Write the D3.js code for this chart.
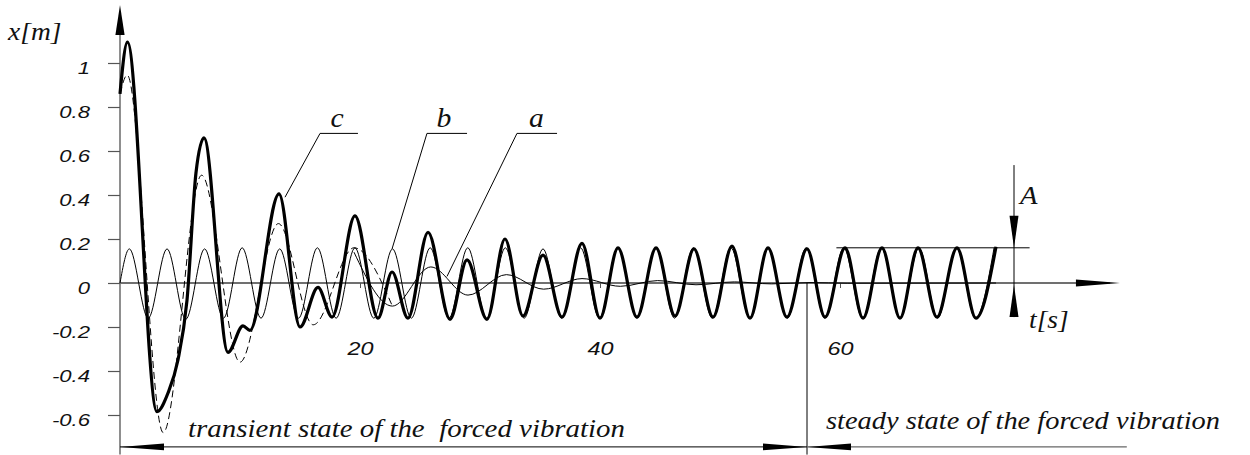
<!DOCTYPE html>
<html>
<head>
<meta charset="utf-8">
<script src="https://cdn.jsdelivr.net/npm/d3@7"></script>
<style>
  html, body { margin: 0; padding: 0; background: #fff; }
  svg { display: block; }
</style>
</head>
<body>
<svg id="chart" width="1250" height="455"></svg>
<script>
// ---- Response of a damped oscillator to harmonic forcing ----
// c: total response (thick), b: steady-state harmonic part (thin),
// a: decaying free-vibration part (thin, dashed at the start)

// c: total displacement, turning points and shoulders [t in s, x in m]
const cTime = [0, 0.62, 3.08, 4.0, 4.83, 5.58, 6.33, 7.0, 9.0, 10.25, 10.83, 13.25,
  15.0, 16.5, 17.67, 19.58, 21.5, 22.67, 24.0, 25.67, 27.5, 28.92, 30.58, 32.08,
  33.58, 35.25, 36.83, 38.5, 40.0, 41.5, 43.08, 44.67, 46.25, 47.83, 49.42, 51.0,
  52.5, 54.0, 55.58, 57.25, 58.75, 60.42, 61.92, 63.5, 65.0, 66.5, 68.08, 69.75,
  71.33, 73.0];
const cDisp = [0.86, 1.095, -0.585, -0.50, -0.35, -0.08, 0.50, 0.66, -0.315, -0.195, -0.215, 0.405,
  -0.20, -0.02, -0.155, 0.305, -0.16, 0.05, -0.16, 0.23, -0.165, 0.105, -0.165, 0.20,
  -0.15, 0.127, -0.155, 0.18, -0.16, 0.16, -0.155, 0.16, -0.15, 0.155, -0.155, 0.168,
  -0.16, 0.16, -0.155, 0.155, -0.155, 0.16, -0.16, 0.16, -0.16, 0.16, -0.155, 0.16,
  -0.16, 0.165];

// b: steady-state (particular) solution, crests and troughs
const bTime = [0, 0.78, 2.35, 3.92, 5.48, 7.05, 8.62, 10.18, 11.75, 13.31, 14.88, 16.45,
  18.01, 19.58, 21.15, 22.71, 24.28, 25.85, 27.41, 28.98, 30.55, 32.11, 33.68, 35.25,
  36.81, 38.38, 39.95, 41.51, 43.08, 44.64, 46.21, 47.78, 49.35, 50.91, 52.48, 54.04,
  55.61, 57.18, 58.74, 60.31, 61.88, 63.44, 65.01, 66.58, 68.14, 69.71, 71.28, 72.84];
const bDisp = [0, 0.155, -0.16, 0.155, -0.165, 0.155, -0.16, 0.16, -0.16, 0.155, -0.16, 0.16,
  -0.16, 0.16, -0.16, 0.155, -0.16, 0.16, -0.16, 0.16, -0.16, 0.16, -0.16, 0.155,
  -0.16, 0.16, -0.16, 0.16, -0.16, 0.16, -0.16, 0.16, -0.16, 0.16, -0.16, 0.16,
  -0.16, 0.16, -0.16, 0.16, -0.16, 0.16, -0.16, 0.16, -0.16, 0.16, -0.16, 0.16];

// a: free vibration, early part (dashed)
const aEarlyTime = [0, 0.6, 3.6, 6.8, 10.0, 13.2, 16.1, 19.5, 22.7];
const aEarlyDisp = [0.86, 0.945, -0.68, 0.49, -0.36, 0.27, -0.19, 0.16, -0.105];

// a: free vibration, decaying tail (solid)
const aTime = [19.5, 22.7, 25.9, 29.0, 32.2, 35.3, 38.5, 41.7, 44.8, 48.0, 51.2, 54.3, 57.5, 60.6, 73.0];
const aDisp = [0.14, -0.105, 0.073, -0.055, 0.038, -0.028, 0.02, -0.015, 0.011, -0.008, 0.005, -0.004, 0.002, -0.001, 0];

// axis ticks
const yTicks = [1, 0.8, 0.6, 0.4, 0.2, 0, -0.2, -0.4, -0.6];
const tTicks = [20, 40, 60];

// phases and steady amplitude
const steadyStart = 57.25;
const steadyAmplitude = 0.16;

// ------------------------------------------------------------------
const svg = d3.select('#chart');
const x = d3.scaleLinear().domain([0, 80]).range([120, 1080]);
const y = d3.scaleLinear().domain([-0.6, 1]).range([415, 63]);

const SANS = 'Liberation Sans';
const SERIF = 'Liberation Serif';
const SANS_STRETCH = 1.3;
const SERIF_STRETCH = 1.1;

const tAxisEnd = 83.33;   // tip of the time-axis arrow
const xAxisTop = 1.264;   // tip of the displacement-axis arrow
const xAxisBottom = -0.78;
const bracketLevel = -0.745;

function zip(ts, vs) { return ts.map((t, i) => [t, vs[i]]); }

function label(g, px, py, str, o) {
  return g.append('text')
    .attr('transform', `translate(${px},${py}) scale(${o.sx || SERIF_STRETCH},1)`)
    .attr('text-anchor', o.anchor || 'start')
    .attr('font-family', o.family || SERIF)
    .attr('font-style', 'italic')
    .attr('font-size', o.size)
    .attr('fill', '#111')
    .text(str);
}

function arrowHead(g, tipX, tipY, dx, dy, len, hw) {
  const bx = tipX - dx * len, by = tipY - dy * len;
  const nx = -dy, ny = dx;
  g.append('path')
    .attr('d', `M${tipX},${tipY}L${bx + nx * hw},${by + ny * hw}L${bx - nx * hw},${by - ny * hw}Z`)
    .attr('fill', '#000');
}

// ---- axes ----
const axes = svg.append('g');

// displacement axis line + arrow
axes.append('line')
  .attr('x1', x(0)).attr('x2', x(0))
  .attr('y1', y(xAxisBottom)).attr('y2', y(xAxisTop) + 10)
  .attr('stroke', '#444').attr('stroke-width', 1.2);
arrowHead(axes, x(0), y(xAxisTop), 0, -1, 30, 4.6);

// time axis line + arrow
axes.append('line')
  .attr('x1', x(0)).attr('x2', x(tAxisEnd) - 10)
  .attr('y1', y(0)).attr('y2', y(0))
  .attr('stroke', '#707070').attr('stroke-width', 1.8);
arrowHead(axes, x(tAxisEnd), y(0), 1, 0, 44, 3.6);

const gy = axes.append('g')
  .attr('transform', `translate(${x(0)},0)`)
  .call(d3.axisLeft(y).tickValues(yTicks).tickSize(12).tickSizeOuter(0).tickFormat(d => String(d)));
gy.attr('font-family', SANS).attr('font-size', 17);
gy.select('.domain').remove();
gy.selectAll('.tick line').attr('stroke', '#555').attr('stroke-width', 1.2);
gy.selectAll('.tick text')
  .attr('x', null).attr('dy', null)
  .attr('transform', `translate(-30,10) scale(${SANS_STRETCH},1)`)
  .attr('text-anchor', 'end')
  .attr('fill', '#111')
  .attr('font-style', 'italic');

const gx = axes.append('g')
  .attr('transform', `translate(0,${y(0)})`)
  .call(d3.axisBottom(x).tickValues(tTicks).tickSize(5).tickSizeOuter(0).tickFormat(d => String(d)));
gx.attr('font-family', SANS).attr('font-size', 18);
gx.select('.domain').remove();
gx.selectAll('.tick line').attr('stroke', '#555');
gx.selectAll('.tick text')
  .attr('y', null).attr('dy', null)
  .attr('transform', `translate(0,72) scale(${SANS_STRETCH},1)`)
  .attr('text-anchor', 'middle')
  .attr('fill', '#111')
  .attr('font-style', 'italic');

// axis titles
label(axes, 8, 40, 'x[m]', { size: 25 });
label(axes, 1029, 328, 't[s]', { size: 25 });

// ---- curves ----
const line = d3.line().x(d => x(d[0])).y(d => y(d[1])).curve(d3.curveMonotoneX);
const curves = svg.append('g').attr('fill', 'none').attr('stroke', '#000');

curves.append('path').attr('d', line(zip(bTime, bDisp))).attr('stroke-width', 1);
curves.append('path').attr('d', line(zip(aTime, aDisp))).attr('stroke-width', 1);
curves.append('path').attr('d', line(zip(aEarlyTime, aEarlyDisp)))
  .attr('stroke-width', 1).attr('stroke-dasharray', '7,4');
curves.append('path').attr('d', line(zip(cTime, cDisp)))
  .attr('stroke-width', 3.2).attr('stroke-linejoin', 'round');

// ---- curve labels with leaders ----
const notes = svg.append('g');
const leaderLevel = 0.68;
const leaders = [
  { name: 'c', at: [13.75, 0.39], elbow: 16.67, end: 19.83, text: 18.1 },
  { name: 'b', at: [22.67, 0.155], elbow: 25.58, end: 28.92, text: 27.0 },
  { name: 'a', at: [27.25, 0.03], elbow: 33.08, end: 36.42, text: 34.7 }
];
leaders.forEach(l => {
  notes.append('path')
    .attr('d', `M${x(l.at[0])},${y(l.at[1])}L${x(l.elbow)},${y(leaderLevel)}L${x(l.end)},${y(leaderLevel)}`)
    .attr('fill', 'none').attr('stroke', '#000').attr('stroke-width', 1);
  label(notes, x(l.text), y(leaderLevel) - 6, l.name, { size: 27, anchor: 'middle' });
});

// ---- amplitude marker A ----
const ampT0 = 59.7, ampT1 = 75.8, ampTx = 74.5;
notes.append('line')
  .attr('x1', x(ampT0)).attr('x2', x(ampT1))
  .attr('y1', y(steadyAmplitude)).attr('y2', y(steadyAmplitude))
  .attr('stroke', '#000').attr('stroke-width', 1);
notes.append('line')
  .attr('x1', x(ampTx)).attr('x2', x(ampTx))
  .attr('y1', y(0.536)).attr('y2', y(-0.155))
  .attr('stroke', '#000').attr('stroke-width', 1);
arrowHead(notes, x(ampTx), y(steadyAmplitude), 0, 1, 32, 4.5);
arrowHead(notes, x(ampTx), y(0) + 2, 0, -1, 32, 4.5);
label(notes, x(ampTx) + 6, 204, 'A', { size: 26 });

// ---- transient / steady state brackets ----
notes.append('line')
  .attr('x1', x(steadyStart)).attr('x2', x(steadyStart))
  .attr('y1', y(0)).attr('y2', y(xAxisBottom))
  .attr('stroke', '#000').attr('stroke-width', 1);
notes.append('line')
  .attr('x1', x(0)).attr('x2', x(steadyStart))
  .attr('y1', y(bracketLevel)).attr('y2', y(bracketLevel))
  .attr('stroke', '#000').attr('stroke-width', 1);
arrowHead(notes, x(0), y(bracketLevel), -1, 0, 44, 3.4);
arrowHead(notes, x(steadyStart), y(bracketLevel), 1, 0, 44, 3.4);
notes.append('line')
  .attr('x1', x(steadyStart)).attr('x2', x(83.9))
  .attr('y1', y(bracketLevel)).attr('y2', y(bracketLevel))
  .attr('stroke', '#666').attr('stroke-width', 1.2);
arrowHead(notes, x(steadyStart), y(bracketLevel), -1, 0, 44, 3.4);

notes.append('text')
  .attr('x', 188).attr('y', 437)
  .attr('textLength', 437).attr('lengthAdjust', 'spacingAndGlyphs')
  .attr('font-family', SERIF).attr('font-style', 'italic').attr('font-size', 25)
  .style('white-space', 'pre')
  .attr('fill', '#111')
  .text('transient state of the  forced vibration');
notes.append('text')
  .attr('x', 826).attr('y', 429)
  .attr('textLength', 394).attr('lengthAdjust', 'spacingAndGlyphs')
  .attr('font-family', SERIF).attr('font-style', 'italic').attr('font-size', 25)
  .attr('fill', '#111')
  .text('steady state of the forced vibration');
</script>
</body>
</html>
